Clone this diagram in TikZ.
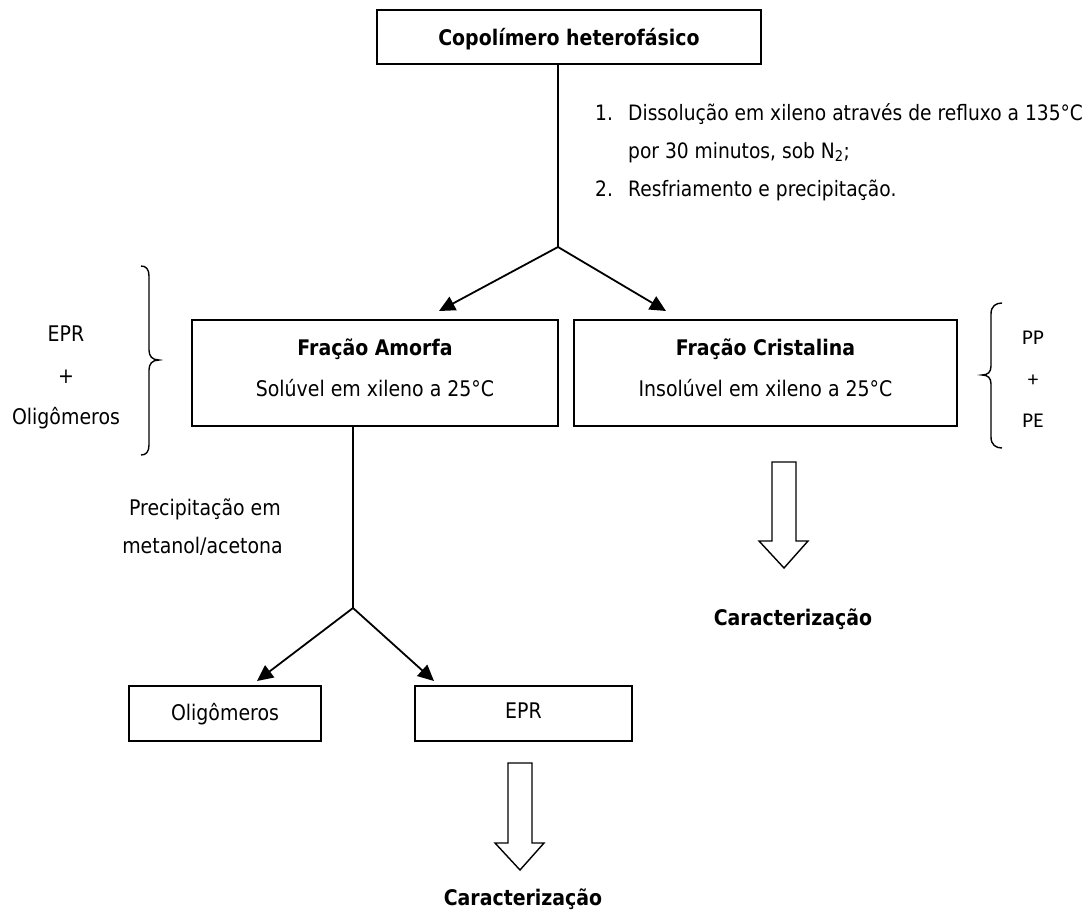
\documentclass[tikz,border=0pt]{standalone}
\usepackage{fontspec}
\setmainfont{DejaVu Sans}[FakeStretch=0.88]
\newfontfamily\calib{Carlito}
\usetikzlibrary{arrows.meta}
\begin{document}
\begin{tikzpicture}[x=1pt,y=-1pt,
  box/.style={draw, line width=1.6pt, rectangle, inner sep=0pt},
  txt/.style={font=\fontsize{21.5}{26}\selectfont, inner sep=0pt, anchor=base},
  ltxt/.style={font=\fontsize{21.2}{26}\selectfont, inner sep=0pt, anchor=base west},
  btxt/.style={font=\fontsize{21.5}{26}\selectfont\bfseries, inner sep=0pt, anchor=base},
  ctxt/.style={font=\fontsize{21}{26}\selectfont\calib, inner sep=0pt, anchor=base},
  ln/.style={line width=1.8pt},
  brc/.style={line width=1.4pt},
  arr/.style={line width=1.8pt, -{Triangle[length=16pt,width=15pt]}},
  hollow/.style={draw, line width=1.4pt, line join=miter}
]
\useasboundingbox (0,0) rectangle (1088,913);

% top box
\node[box, minimum width=384pt, minimum height=54pt] (top) at (569,37) {};
\node[btxt] (toptxt) at (569,45) {Copolímero heterofásico};

% list
\node[ltxt] (n1) at (595,120) {1.};
\node[ltxt] (l1) at (628,120) {Dissolução em xileno através de refluxo a 135°C};
\node[ltxt] (l2) at (628,158) {por 30 minutos, sob N\textsubscript{2};};
\node[ltxt] (n2) at (595,196) {2.};
\node[ltxt] (l3) at (628,196) {Resfriamento e precipitação.};

% first split
\coordinate (j1) at (558,247);
\coordinate (tA) at (439,311);
\coordinate (tC) at (666,311);
\draw[ln] (top.south -| j1) -- (j1);
\draw[arr] (j1) -- (tA);
\draw[arr] (j1) -- (tC);

% fraction boxes
\node[box, minimum width=366pt, minimum height=106pt] (ama) at (375,373) {};
\node[btxt] (amat) at (375,355) {Fração Amorfa};
\node[txt] (amas) at (375,396) {Solúvel em xileno a 25°C};

\node[box, minimum width=383pt, minimum height=106pt] (cri) at (765.5,373) {};
\node[btxt] (crit) at (765.5,355) {Fração Cristalina};
\node[txt] (cris) at (765.5,396) {Insolúvel em xileno a 25°C};

% left brace and labels
\draw[brc] (141,266) .. controls (146,266) and (149,269) .. (149,276) -- (149,350)
  .. controls (149,356) and (152,360) .. (159,360)
  .. controls (152,360) and (149,364) .. (149,370) -- (149,445)
  .. controls (149,452) and (146,455) .. (141,455);
\node[txt] (le1) at (66,341) {EPR};
\node[txt] (le2) at (66,383) {+};
\node[txt] (le3) at (66,424) {Oligômeros};

% right brace and labels
\draw[brc] (1002,303) .. controls (996,303) and (991,306) .. (991,314) -- (991,366)
  .. controls (991,372) and (988,375) .. (982,375)
  .. controls (988,375) and (991,378) .. (991,384) -- (991,437)
  .. controls (991,445) and (996,448) .. (1002,448);
\node[ctxt] (re1) at (1033,344) {PP};
\node[ctxt] (re2) at (1033,386) {+};
\node[ctxt] (re3) at (1033,427) {PE};

% right hollow arrow and label
\draw[hollow] (772,462) -- (796,462) -- (796,541) -- (808,541) -- (784,568) -- (759,541) -- (772,541) -- cycle;
\node[btxt] (car1) at (793,625) {Caracterização};

% second split
\coordinate (j2) at (353,608);
\coordinate (tO) at (257,681);
\coordinate (tE) at (434,681);
\draw[ln] (ama.south -| j2) -- (j2);
\draw[arr] (j2) -- (tO);
\draw[arr] (j2) -- (tE);
\node[txt, anchor=base east] (p1) at (281,515) {Precipitação em};
\node[txt, anchor=base east] (p2) at (283,553) {metanol/acetona};

% bottom boxes
\node[box, minimum width=192pt, minimum height=55pt] (olig) at (225,713.5) {};
\node[txt] (oligt) at (225,720) {Oligômeros};
\node[box, minimum width=217pt, minimum height=55pt] (epr) at (523.5,713.5) {};
\node[txt] (eprt) at (523.5,718) {EPR};

% bottom hollow arrow and label
\draw[hollow] (508,763) -- (532,763) -- (532,843) -- (544,843) -- (520,870) -- (495,843) -- (508,843) -- cycle;
\node[btxt] (car2) at (523,905) {Caracterização};
\end{tikzpicture}
\end{document}
